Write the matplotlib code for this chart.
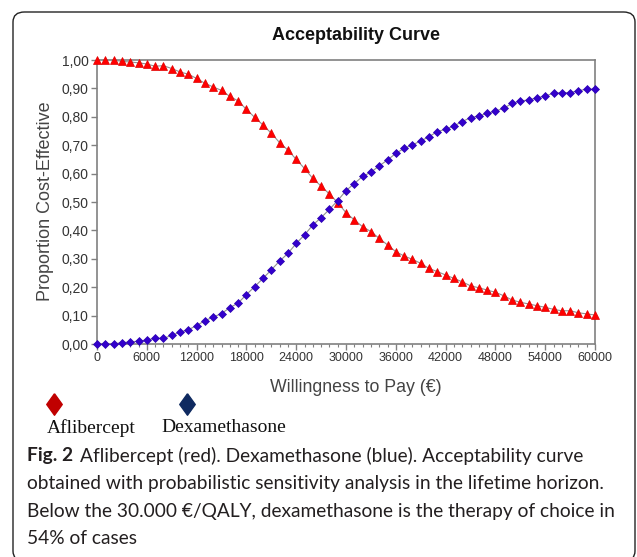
import matplotlib
matplotlib.use("Agg")
import matplotlib.pyplot as plt
from matplotlib.patches import FancyBboxPatch
from matplotlib.ticker import MultipleLocator

# ---- data ----
wtp = list(range(0, 60001, 1000))

aflibercept = [
    1.000, 1.000, 1.000, 0.995, 0.993, 0.990, 0.986, 0.978, 0.980, 0.970,
    0.958, 0.950, 0.935, 0.918, 0.905, 0.893, 0.872, 0.856, 0.826, 0.798,
    0.771, 0.742, 0.709, 0.683, 0.650, 0.618, 0.583, 0.556, 0.528, 0.498,
    0.462, 0.437, 0.413, 0.396, 0.372, 0.349, 0.325, 0.310, 0.298, 0.284,
    0.266, 0.255, 0.243, 0.231, 0.219, 0.205, 0.198, 0.190, 0.182, 0.170,
    0.155, 0.147, 0.141, 0.135, 0.129, 0.122, 0.117, 0.117, 0.110, 0.106,
    0.102,
]
dexamethasone = [
    0.000, 0.000, 0.000, 0.005, 0.007, 0.010, 0.014, 0.020, 0.020, 0.030,
    0.042, 0.050, 0.065, 0.082, 0.095, 0.107, 0.128, 0.144, 0.174, 0.202,
    0.231, 0.261, 0.292, 0.319, 0.354, 0.384, 0.419, 0.445, 0.474, 0.505,
    0.540, 0.565, 0.590, 0.605, 0.627, 0.648, 0.671, 0.689, 0.701, 0.715,
    0.730, 0.748, 0.756, 0.768, 0.783, 0.797, 0.803, 0.812, 0.820, 0.830,
    0.847, 0.856, 0.859, 0.867, 0.873, 0.883, 0.885, 0.885, 0.892, 0.897,
    0.897,
]

x_ticks = [0, 6000, 12000, 18000, 24000, 30000, 36000, 42000, 48000, 54000, 60000]
y_ticks = [0.0, 0.1, 0.2, 0.3, 0.4, 0.5, 0.6, 0.7, 0.8, 0.9, 1.0]
y_tick_labels = ["0,00", "0,10", "0,20", "0,30", "0,40", "0,50",
                 "0,60", "0,70", "0,80", "0,90", "1,00"]

caption_lines = [
    "obtained with probabilistic sensitivity analysis in the lifetime horizon.",
    "Below the 30.000 \u20ac/QALY, dexamethasone is the therapy of choice in",
    "54% of cases",
]

W, H = 637, 557
SANS = ["Liberation Sans", "DejaVu Sans"]
CAP = ["Lato", "DejaVu Sans"]
SERIF = ["Liberation Serif", "DejaVu Serif"]

fig = plt.figure(figsize=(W / 100, H / 100), dpi=100)

# rounded frame around the figure (bottom edge falls just off the canvas)
frame = FancyBboxPatch((13 / W, -4 / H), 622 / W, 549 / H,
                       boxstyle="round,pad=0,rounding_size=0.018",
                       transform=fig.transFigure, fill=False,
                       edgecolor="#222222", linewidth=1.0)
fig.add_artist(frame)

ax = fig.add_axes([97 / W, 1 - 344 / H, 498 / W, 284 / H])

ax.plot(wtp, aflibercept, color="#909090", linewidth=0.8, marker="^",
        markersize=6, markerfacecolor="#ff0000", markeredgecolor="#e00000",
        markeredgewidth=0.5, clip_on=False, zorder=3)
ax.plot(wtp, dexamethasone, color="#909090", linewidth=0.8, marker="D",
        markersize=4.5, markerfacecolor="#3300cc", markeredgecolor="#2a00b0",
        markeredgewidth=0.5, clip_on=False, zorder=3)

ax.set_xlim(0, 60000)
ax.set_ylim(0, 1.0)
ax.set_xticks(x_ticks)
ax.set_xticklabels([str(t) for t in x_ticks], family=SANS, fontsize=9,
                   color="#333333")
ax.xaxis.set_minor_locator(MultipleLocator(1000))
ax.set_yticks(y_ticks)
ax.set_yticklabels(y_tick_labels, family=SANS, fontsize=10, color="#333333")

for side in ["left", "bottom", "top", "right"]:
    ax.spines[side].set_color("#808080")
    ax.spines[side].set_linewidth(1.2)
ax.tick_params(axis="both", which="major", direction="out", length=4,
               width=1, color="#808080", pad=2)
ax.tick_params(axis="x", which="minor", direction="out", length=2.5,
               width=0.8, color="#808080")

fig.text(356 / W, 1 - 35 / H, "Acceptability Curve", family=SANS,
         fontsize=13, fontweight="bold", ha="center", va="center",
         color="#111111")
fig.text(46 / W, 1 - 201 / H, "Proportion Cost-Effective", family=SANS,
         fontsize=13, rotation=90, ha="center", va="center", color="#444444")
fig.text(356 / W, 1 - 388 / H, "Willingness to Pay (\u20ac)", family=SANS,
         fontsize=12.8, ha="center", va="center", color="#444444")

# legend drawn under the chart: tall diamonds above the names
tall_diamond = [(0, 1), (0.72, 0), (0, -1), (-0.72, 0), (0, 1)]
fig.lines.append(plt.Line2D([54 / W], [1 - 404 / H], transform=fig.transFigure,
                            marker=tall_diamond, markersize=15.5,
                            color="#c00000", linestyle="none"))
fig.lines.append(plt.Line2D([187 / W], [1 - 404 / H], transform=fig.transFigure,
                            marker=tall_diamond, markersize=15.5,
                            color="#0f2a60", linestyle="none"))
fig.text(47 / W, 1 - 428 / H, "Aflibercept", family=SERIF, fontsize=14,
         ha="left", va="center", color="#111111")
fig.text(161 / W, 1 - 428 / H, "Dexamethasone", family=SERIF, fontsize=14,
         ha="left", va="center", color="#111111")

# caption
fig.text(27 / W, 1 - 456 / H, "Fig. 2", family=CAP, fontsize=13.8,
         fontweight="bold", ha="left", va="center", color="#231f20")
fig.text(80 / W, 1 - 456 / H,
         "Aflibercept (red). Dexamethasone (blue). Acceptability curve",
         family=CAP, fontsize=13.8, ha="left", va="center", color="#231f20")
for i, line in enumerate(caption_lines):
    fig.text(27 / W, 1 - (483.5 + 27.5 * i) / H, line, family=CAP,
             fontsize=13.8, ha="left", va="center", color="#231f20")

fig.savefig("out.png", dpi=100)
